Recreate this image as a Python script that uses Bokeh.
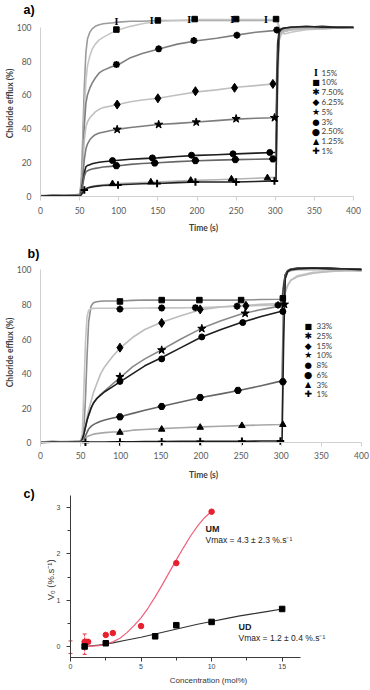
import math
from bokeh.plotting import figure
from bokeh.layouts import column
from bokeh.models import (Range1d, FixedTicker, SingleIntervalTicker, Label)
from bokeh.core.properties import value
from bokeh.embed import file_html
from bokeh.resources import INLINE

FONT = "Lato"
ARIAL = "Liberation Sans"
SYM = "DejaVu Sans"
TICK_COL = "#595959"

# ---------------- panel a data (time s, chloride efflux %) ----------------
t_a = [0, 15, 30, 45, 50, 52, 54, 56, 58, 60, 63, 66, 70, 75, 80, 90, 100, 115,
       130, 150, 175, 200, 225, 250, 275, 298, 301, 303, 305, 308, 312, 320, 340,
       360, 380, 400]
a_15 = [0.3, 0.8, 0.5, 1.0, 1.5, 8, 35, 65, 85, 93, 97, 99, 100.5, 101.5, 102, 102.5,
        103, 103.5, 103.5, 104, 104, 104, 104, 104, 104, 104, 104, 103, 100, 98, 97.5,
        98.5, 99, 99.5, 100, 99.5]
a_10 = [0.3, 0.6, 0.4, 0.8, 1.0, 5, 25, 50, 68, 77, 83, 87, 90, 92.5, 94, 96.5, 98.5,
        100.5, 102, 103.5, 104, 104.5, 104.5, 104.5, 104.5, 104.5, 104.5, 103, 100, 97,
        96, 97, 98.5, 99, 99.5, 99.5]
a_75 = [0.2, 0.5, 0.6, 0.9, 1.0, 5, 22, 42, 55, 60, 64, 67, 70, 73, 74.5, 76.5, 78, 82,
        84.5, 87, 90, 92, 93.5, 95.3, 97, 98, 98.3, 98.5, 98.5, 98.5, 98.5, 99, 99.5,
        99.5, 100, 99.5]
a_625 = [0.4, 0.7, 0.3, 1.0, 1.0, 4, 18, 33, 41, 44, 46.5, 48, 50, 51.5, 52.5, 53.5,
         54.5, 56, 57, 58, 60, 61.8, 63, 64.5, 65.5, 66.5, 67, 80, 92, 96, 97.5, 98.5,
         99, 99, 99.5, 99.5]
a_5 = [0.2, 0.5, 0.7, 0.8, 1.0, 3, 12, 22, 28, 31, 33.5, 35, 36.5, 37.5, 38, 39, 39.8,
       40.8, 41.5, 42.5, 43.2, 44, 44.8, 45.7, 46.2, 46.5, 47, 85, 97, 98.5, 99, 99.5,
       100, 99.5, 100, 99.5]
a_3 = [0.3, 0.4, 0.6, 0.5, 0.5, 2, 8, 14, 17.5, 18.3, 18.8, 19.3, 19.8, 20.2, 20.5, 21,
       21.4, 22, 22.4, 22.8, 23.6, 24.3, 24.7, 25.2, 25.6, 26, 26, 90, 98, 99, 99.5,
       100, 100, 100.5, 100, 100]
a_25 = [0.5, 0.3, 0.7, 0.6, 0.5, 2, 7, 12, 14.5, 15.2, 15.8, 16.2, 16.6, 17, 17.4, 17.8,
        18.2, 19, 19.5, 19.9, 20.6, 21.1, 21.5, 21.8, 22, 22.2, 22.3, 80, 96, 98.5, 99,
        99.5, 100, 100, 99.5, 99.5]
a_125 = [0.4, 0.6, 0.8, 0.7, 0.5, 1, 2, 3.5, 4.5, 5, 5.5, 6, 6.3, 6.6, 6.9, 7.2, 7.6, 8,
         8.3, 8.6, 9.1, 9.5, 9.9, 10.3, 10.8, 11.3, 11.4, 60, 94, 97.5, 98.5, 99, 99.5,
         99.5, 100, 99.5]
a_1 = [0.2, 0.5, 0.4, 0.6, 0.3, 1, 2.5, 3.8, 4.5, 5, 5.4, 5.7, 6, 6.3, 6.5, 6.7, 6.9,
       7.2, 7.5, 7.7, 8.2, 8.6, 8.6, 8.6, 8.9, 9.2, 9.3, 75, 97, 99, 99.5, 100, 100.5,
       100, 100, 100]

ma_15_t = [97, 142, 190, 245, 288];   ma_15_v = [103.4, 104, 104.3, 104.3, 104.3]
ma_10_t = [97, 150, 197, 250, 301];   ma_10_v = [98.6, 104, 104.8, 104.8, 104.8]
ma_75_t = [97, 151, 196, 251, 302];   ma_75_v = [78, 87.2, 92.1, 95.3, 98.4]
ma_625_t = [98, 150, 198, 248, 297];  ma_625_v = [54.3, 58, 62.2, 64.2, 66.5]
ma_5_t = [98, 151, 199, 250, 299];    ma_5_v = [39.6, 42.5, 43.9, 45.9, 46.5]
ma_3_t = [92, 143, 193, 246, 293];    ma_3_v = [21.2, 22.8, 24.4, 25.2, 26.0]
ma_25_t = [97, 146, 198, 249, 297];   ma_25_v = [18.2, 19.8, 21.2, 21.8, 22.2]
ma_125_t = [92, 141, 192, 244, 290];  ma_125_v = [7.5, 8.5, 9.5, 10.3, 11.0]
ma_1_t = [56, 99, 149, 198, 250, 299]; ma_1_v = [3.8, 6.8, 7.7, 8.6, 8.5, 9.2]

a_labels = ["15%", "10%", "7.50%", "6.25%", "5%", "3%", "2.50%", "1.25%", "1%"]

# ---------------- panel b data ----------------
t_b = [0, 15, 30, 45, 50, 52, 54, 56, 58, 60, 63, 66, 70, 75, 80, 90, 100, 115,
       130, 150, 175, 200, 225, 250, 275, 298, 301, 303, 305, 308, 312, 320, 340,
       360, 380, 400]
b_33 = [0.5, 0.8, 0.5, 1.0, 1.0, 2, 8, 25, 50, 70, 79, 81, 81.5, 81.8, 82, 82, 82, 82.3,
        82.5, 82.5, 82.5, 82.5, 82.5, 82.5, 82.8, 83, 83.5, 92, 97, 99, 100, 100.5, 101,
        101, 100.5, 100]
b_25 = [0.4, 0.6, 0.9, 0.8, 1.0, 5, 30, 58, 73, 76.5, 77.5, 77.7, 77.8, 77.8, 77.8, 77.8,
        77.6, 77.8, 77.9, 78, 78, 78.2, 78.6, 79, 79.4, 79.6, 79.8, 82, 87, 91, 94, 96.5,
        98.5, 99, 99.5, 99.5]
b_15 = [0.3, 0.5, 0.4, 0.7, 1.0, 2, 5, 10, 15, 19, 24, 29, 34, 40, 44, 50, 55, 61, 65.5,
        69.5, 73.5, 77, 78.5, 79.3, 80, 80.5, 80.5, 82, 87, 91, 94, 96, 98, 99, 99.5, 99.5]
b_10 = [0.3, 0.4, 0.6, 0.5, 1.0, 2, 5, 9, 13, 16, 20, 23, 25.5, 28, 30, 34, 38, 44, 48.5,
        53.5, 60, 66, 70.5, 74.5, 77, 79, 79.5, 90, 97, 99, 100, 100.5, 101, 100.5,
        100.5, 100]
b_8 = [0.2, 0.5, 0.3, 0.6, 0.5, 2, 5, 9, 13, 16, 20, 23, 25.5, 27.5, 29.5, 32.5, 35.5,
       40, 44.5, 49, 55, 61, 65.5, 69.5, 73, 75.8, 76, 90, 97, 99.5, 100.5, 101, 101,
       101, 100.5, 100.5]
b_6 = [0.4, 0.3, 0.6, 0.5, 0.5, 1, 2, 4, 6, 8, 9.5, 10.5, 11.5, 12.5, 13.2, 14.3, 15.2,
       17, 18.8, 21, 23.6, 26.2, 28.3, 30.5, 33, 35.5, 36, 85, 97, 99.5, 100.5, 100.5,
       101, 100.5, 100.5, 100]
b_3 = [0.5, 0.7, 0.4, 0.6, 0.3, 0.8, 1.5, 2.5, 3.5, 4, 4.5, 5, 5.3, 5.6, 5.9, 6.2, 6.3,
       7.3, 7.7, 8.2, 8.7, 9.2, 9.6, 9.9, 10.3, 10.6, 10.8, 70, 95, 98.5, 99.5, 100, 100,
       100, 100, 99.5]
b_1 = [0.2, 0.4, 0.3, 0.5, 0.3, 0.3, 0.4, 0.4, 0.4, 0.4, 0.5, 0.5, 0.5, 0.5, 0.5, 0.6,
       0.6, 0.6, 0.7, 0.7, 0.8, 0.8, 0.9, 0.9, 1.0, 1.0, 1.2, 60, 95, 99, 100, 100.5, 101,
       100.5, 100.5, 100]

mb_33_t = [99, 151, 198, 250, 302];  mb_33_v = [81.7, 82.5, 82.5, 82.5, 83.5]
mb_25_t = [99, 151, 193, 245, 296];  mb_25_v = [77.3, 77.9, 78.1, 79.0, 79.6]
mb_15_t = [99, 151, 199, 256];       mb_15_v = [55, 69.3, 77.1, 79.2]
mb_10_t = [99, 151, 201, 255, 304];  mb_10_v = [38.1, 53.6, 66, 74.8, 80]
mb_8_t = [99, 151, 201, 252, 302];   mb_8_v = [35.5, 48.5, 61.2, 69.5, 75.9]
mb_6_t = [99, 151, 199, 246, 302];   mb_6_v = [15, 21, 26.2, 30.3, 35.3]
mb_3_t = [99, 151, 199, 251, 302];   mb_3_v = [6.0, 7.8, 8.9, 9.9, 10.5]
mb_1_t = [56, 99, 151, 199, 251, 299]; mb_1_v = [0.3, 0.5, 0.6, 0.8, 0.9, 1.0]

b_labels = ["33%", "25%", "15%", "10%", "8%", "6%", "3%", "1%"]

x_ticks_ab = [0, 50, 100, 150, 200, 250, 300, 350, 400]
y_ticks_ab = [0, 20, 40, 60, 80, 100]

# ---------------- panel c data ----------------
um_x = [1, 1.12, 1.25, 2.5, 3, 5, 7.5, 10]
um_y = [0.1, 0.1, 0.1, 0.25, 0.29, 0.44, 1.80, 2.91]
um_err_x = [0, 1]
um_err_lo = [-0.15, -0.17]
um_err_hi = [0.12, 0.27]
ud_x = [1, 2.5, 6, 7.5, 10, 15]
ud_y = [0.0, 0.07, 0.22, 0.46, 0.53, 0.81]
um_fit_x = [1, 1.5, 2, 2.5, 3, 3.5, 4, 4.5, 5, 5.5, 6, 6.5, 7, 7.5, 8, 8.5, 9, 9.5, 10]
um_fit_y = [0.0, 0.01, 0.02, 0.05, 0.1, 0.18, 0.3, 0.45, 0.62, 0.83, 1.07, 1.33, 1.6,
            1.87, 2.13, 2.38, 2.6, 2.78, 2.92]
ud_fit_x = [1, 2, 3, 4, 5, 6, 7, 8, 9, 10, 11, 12, 13, 14, 15]
ud_fit_y = [0.0, 0.03, 0.08, 0.14, 0.2, 0.27, 0.34, 0.41, 0.48, 0.54, 0.6, 0.66, 0.71,
            0.76, 0.81]

# ---------------- layout (page pixels; Bokeh's page has no body margin) ----------------
PX0 = 0
W = 370


class Panel:
    def __init__(self, top, height, x0_page, x_per, y0_page, y_per):
        self.top = top
        self.h = height
        xs = -(x0_page - PX0) / x_per
        xe = (PX0 + W - x0_page) / x_per
        ye = (y0_page - top) / y_per
        ys = -(top + height - y0_page) / y_per
        self.p = figure(width=W, height=height, x_range=Range1d(xs, xe),
                        y_range=Range1d(ys, ye), output_backend="svg",
                        toolbar_location=None, min_border=0, min_border_left=0,
                        min_border_right=0, min_border_top=0, min_border_bottom=0)
        self.p.xgrid.visible = False
        self.p.ygrid.visible = False
        self.p.outline_line_color = None
        self.p.background_fill_color = "white"

    def text(self, x, y, txt, size, bold=False, angle=0.0, align="left",
             color="#000000", font=FONT, baseline="middle"):
        self.p.add_layout(Label(x=x - PX0, y=self.top + self.h - y, x_units="screen",
                                y_units="screen", text=txt, text_font=font,
                                text_font_size=size,
                                text_font_style="bold" if bold else "normal",
                                text_color=color, text_align=align,
                                text_baseline=baseline, angle=angle))


def style_ab(p, label_standoff):
    xa = p.xaxis[0]
    ya = p.yaxis[0]
    xa.fixed_location = 0
    ya.fixed_location = 0
    xa.ticker = FixedTicker(ticks=x_ticks_ab)
    xa.bounds = (0, 400)
    xa.axis_line_color = "#d0d0d0"
    xa.major_tick_line_color = "#d0d0d0"
    xa.major_tick_out = 4
    xa.major_tick_in = 0
    xa.minor_tick_line_color = None
    xa.major_label_standoff = label_standoff
    xa.major_label_text_font = FONT
    xa.major_label_text_font_size = "8.5px"
    xa.major_label_text_color = TICK_COL
    ya.ticker = FixedTicker(ticks=y_ticks_ab)
    ya.bounds = (0, 100)
    ya.axis_line_color = "#d0d0d0"
    ya.major_tick_line_color = None
    ya.major_tick_out = 0
    ya.major_tick_in = 0
    ya.minor_tick_line_color = None
    ya.major_label_standoff = 9
    ya.major_label_text_font = FONT
    ya.major_label_text_font_size = "8.5px"
    ya.major_label_text_color = TICK_COL


def add_markers(p, kind, t, v, size):
    if kind == "ibeam":
        return p.text(x=t, y=v, text=["I"] * len(t), text_font=value("Liberation Serif"),
                      text_font_style="bold", text_font_size="10px", text_color="black",
                      text_align="center", text_baseline="middle")
    lw = 2 if kind in ("asterisk", "cross") else 1
    return p.scatter(x=t, y=v, marker=kind, size=size, fill_color="black",
                     line_color="black", line_width=lw)


SYMBOL = {"ibeam": ("I", "Liberation Serif", "10px", True),
          "square": ("\u25a0", SYM, "8px", False),
          "asterisk": ("\u2731", SYM, "9px", False),
          "diamond": ("\u25c6", SYM, "9px", False),
          "star": ("\u2605", SYM, "9px", False),
          "circle": ("\u25cf", SYM, "8.5px", False),
          "hex": ("\u25cf", SYM, "9.5px", False),
          "triangle": ("\u25b2", SYM, "8px", False),
          "cross": ("\u271a", SYM, "9px", False)}


def legend(panel, kinds, labels, sym_x, text_x, y0, dy):
    for i, (k, lab) in enumerate(zip(kinds, labels)):
        ch, fnt, sz, bold = SYMBOL[k]
        y = y0 + i * dy
        panel.text(sym_x, y, ch, sz, bold=bold, align="center", font=fnt)
        panel.text(text_x, y, lab, "8px", color="#404040")


# ======================= panel a =======================
A = Panel(top=0, height=233, x0_page=40, x_per=313 / 400, y0_page=196, y_per=169.3 / 100)
fa = A.p
style_ab(fa, 6)
a_series = [
    (a_15, "#9c9c9c", "ibeam", ma_15_t, ma_15_v, 0),
    (a_10, "#c6c6c6", "square", ma_10_t, ma_10_v, 5.5),
    (a_75, "#808080", "asterisk", ma_75_t, ma_75_v, 7),
    (a_625, "#c0c0c0", "diamond", ma_625_t, ma_625_v, 9),
    (a_5, "#7d7d7d", "star", ma_5_t, ma_5_v, 8.5),
    (a_3, "#1e1e1e", "circle", ma_3_t, ma_3_v, 6),
    (a_25, "#686868", "hex", ma_25_t, ma_25_v, 7),
    (a_125, "#b3b3b3", "triangle", ma_125_t, ma_125_v, 6.5),
    (a_1, "#222222", "cross", ma_1_t, ma_1_v, 7.5),
]
for vals, col, _, _, _, _ in a_series:
    fa.line(t_a, vals, line_color=col, line_width=1.6, line_join="round")
for vals, col, kind, mt, mv, sz in a_series:
    add_markers(fa, kind, mt, mv, sz)
legend(A, [s[2] for s in a_series], a_labels, 315.5, 321, 72, 9.8)
A.text(23, 9, "a)", "12.5px", bold=True, font=ARIAL)
A.text(9, 103, "Chloride efflux (%)", "8.5px", bold=True, angle=math.pi / 2,
       align="center", color="#404040")
A.text(203, 227, "Time (s)", "8.5px", bold=True, align="center", color="#404040")

# ======================= panel b =======================
B = Panel(top=233, height=249, x0_page=40, x_per=321 / 400, y0_page=442.3, y_per=173 / 100)
fb = B.p
style_ab(fb, 5)
b_series = [
    (b_33, "#8e8e8e", "square", mb_33_t, mb_33_v, 5.5),
    (b_25, "#c4c4c4", "asterisk", mb_25_t, mb_25_v, 7),
    (b_15, "#bdbdbd", "diamond", mb_15_t, mb_15_v, 9),
    (b_10, "#8a8a8a", "star", mb_10_t, mb_10_v, 8.5),
    (b_8, "#1e1e1e", "circle", mb_8_t, mb_8_v, 6),
    (b_6, "#666666", "hex", mb_6_t, mb_6_v, 7),
    (b_3, "#a8a8a8", "triangle", mb_3_t, mb_3_v, 6.5),
    (b_1, "#1e1e1e", "cross", mb_1_t, mb_1_v, 7.5),
]
for vals, col, _, _, _, _ in b_series:
    fb.line(t_b, vals, line_color=col, line_width=1.6, line_join="round")
for vals, col, kind, mt, mv, sz in b_series:
    add_markers(fb, kind, mt, mv, sz)
legend(B, [s[2] for s in b_series], b_labels, 307.7, 316, 325.7, 9.75)
B.text(27, 253, "b)", "12.5px", bold=True, font=ARIAL)
B.text(9, 352, "Chloride efflux (%)", "8.5px", bold=True, angle=math.pi / 2,
       align="center", color="#404040")
B.text(203, 474, "Time (s)", "8.5px", bold=True, align="center", color="#404040")

# ======================= panel c =======================
C = Panel(top=482, height=208, x0_page=70, x_per=14.11, y0_page=646, y_per=46.33)
fc = C.p
for ax, tk, bnd, loc in ((fc.xaxis[0], SingleIntervalTicker(interval=5, num_minor_ticks=2),
                          (0, 16.3), -0.237),
                         (fc.yaxis[0], SingleIntervalTicker(interval=1, num_minor_ticks=2),
                          (-0.237, 3.26), 0)):
    ax.fixed_location = loc
    ax.ticker = tk
    ax.bounds = bnd
    ax.axis_line_color = "#3a3a3a"
    ax.major_tick_line_color = "#3a3a3a"
    ax.minor_tick_line_color = "#3a3a3a"
    ax.major_tick_out = 4
    ax.major_tick_in = 0
    ax.minor_tick_out = 3
    ax.minor_tick_in = 0
    ax.major_label_text_font = ARIAL
    ax.major_label_text_font_size = "7px"
    ax.major_label_text_color = "#444444"
fc.xaxis[0].major_label_standoff = 3
fc.yaxis[0].major_label_standoff = 6

fc.line(ud_fit_x, ud_fit_y, line_color="#333333", line_width=1.2)
fc.line(um_fit_x, um_fit_y, line_color="#f0607a", line_width=1.2)
fc.segment(x0=um_err_x, y0=um_err_lo, x1=um_err_x, y1=um_err_hi, line_color="#e8313f",
           line_width=1, line_dash="2 1")
fc.scatter(x=um_err_x, y=um_err_hi, marker="dash", size=4, line_color="#e8313f")
fc.scatter(x=um_err_x, y=um_err_lo, marker="dash", size=4, line_color="#e8313f")
fc.scatter(x=um_x, y=um_y, marker="circle", size=5.5, fill_color="#e8202e",
           line_color="#e8202e")
fc.scatter(x=ud_x, y=ud_y, marker="square", size=5.5, fill_color="black",
           line_color="black")

C.text(23, 493, "c)", "12.5px", bold=True, font=ARIAL)
C.text(205, 528, "UM", "9px", bold=True, font=ARIAL, color="#222222")
C.text(205, 539, "Vmax = 4.3 \u00b1 2.3 %.s\u207b\u00b9", "8.5px", font=ARIAL,
       color="#222222")
C.text(238, 626, "UD", "9px", bold=True, font=ARIAL, color="#222222")
C.text(238, 637, "Vmax = 1.2 \u00b1 0.4 %.s\u207b\u00b9", "8.5px", font=ARIAL,
       color="#222222")
C.text(208, 680, "Concentration (mol%)", "8px", align="center", font=ARIAL,
       color="#333333")
C.text(50, 578, "V\u2092  (%.s\u207b\u00b9)", "9.5px", align="center", font=ARIAL,
       angle=math.pi / 2, color="#333333")

layout = column(fa, fb, fc)
open("out.html", "w").write(file_html(layout, INLINE))
